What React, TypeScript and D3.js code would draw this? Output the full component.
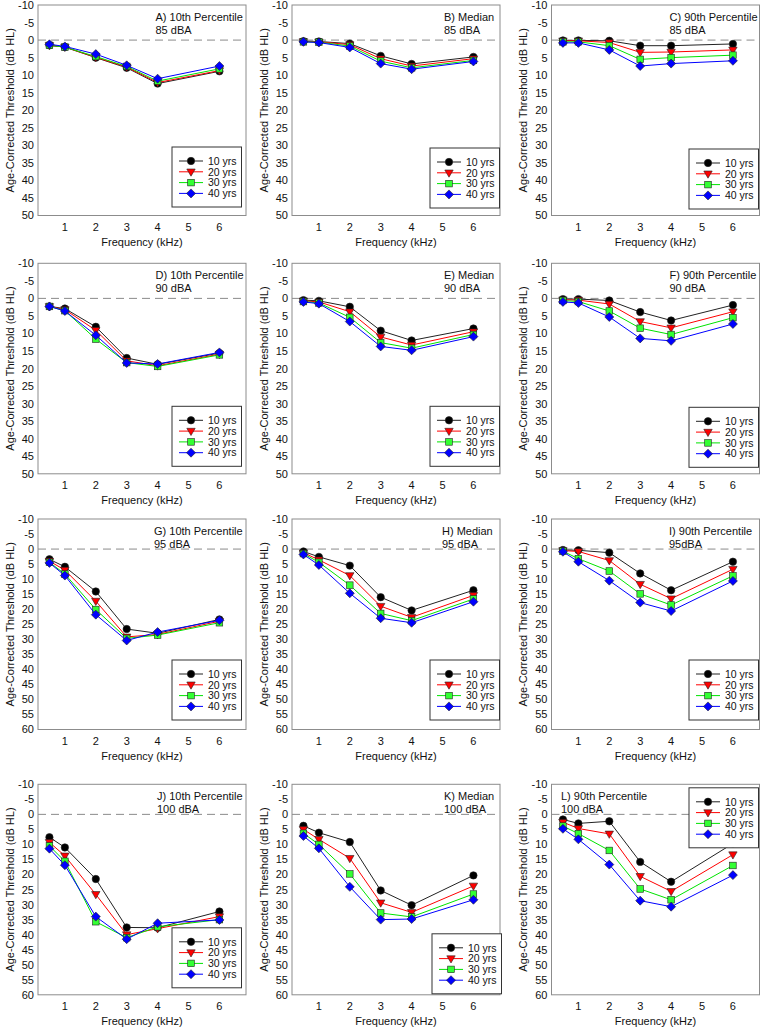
import React from "react";
import * as d3 from "d3";

// ---------- DATA ----------
const frequencies = [0.5, 1, 2, 3, 4, 6];
const ageGroups = ["10 yrs", "20 yrs", "30 yrs", "40 yrs"];
const xTickValues = [1, 2, 3, 4, 5, 6];
const yTicksShort = [-10, -5, 0, 5, 10, 15, 20, 25, 30, 35, 40, 45, 50];
const yTicksLong = [-10, -5, 0, 5, 10, 15, 20, 25, 30, 35, 40, 45, 50, 55, 60];
const panelTitles = [
  "A) 10th Percentile", "B) Median", "C) 90th Percentile",
  "D) 10th Percentile", "E) Median", "F) 90th Percentile",
  "G) 10th Percentile", "H) Median", "I) 90th Percentile",
  "J) 10th Percentile", "K) Median", "L) 90th Percentile",
];
const levelLabels = [
  "85 dBA", "85 dBA", "85 dBA",
  "90 dBA", "90 dBA", "90 dBA",
  "95 dBA", "95 dBA", "95dBA",
  "100 dBA", "100 dBA", "100 dBA",
];

// thresholds (dB HL), one row per age group: 10, 20, 30, 40 yrs
const panelA = [
  [1.5, 2.0, 5.0, 7.9, 12.4, 8.9],
  [1.5, 2.0, 4.9, 7.7, 12.1, 8.7],
  [1.5, 2.0, 4.7, 7.5, 11.7, 8.2],
  [1.2, 1.8, 4.0, 7.2, 11.0, 7.4],
];
const panelB = [
  [0.3, 0.4, 1.0, 4.5, 6.8, 4.8],
  [0.4, 0.5, 1.3, 5.3, 7.4, 5.3],
  [0.5, 0.6, 1.7, 6.0, 7.9, 5.8],
  [0.5, 0.7, 2.1, 6.7, 8.3, 6.1],
];
const panelC = [
  [0.1, 0.1, 0.2, 1.6, 1.6, 1.1],
  [0.2, 0.2, 0.7, 3.5, 3.4, 2.8],
  [0.5, 0.5, 1.6, 5.5, 5.0, 4.3],
  [0.8, 0.8, 2.8, 7.4, 6.7, 5.9],
];
const panelD = [
  [2.3, 2.9, 8.1, 17.0, 18.8, 15.6],
  [2.3, 3.2, 9.1, 17.8, 19.2, 15.9],
  [2.3, 3.5, 11.6, 18.3, 19.4, 16.1],
  [2.3, 3.6, 10.5, 18.4, 18.7, 15.4],
];
const panelE = [
  [0.5, 0.7, 2.4, 9.2, 12.0, 8.6],
  [0.7, 1.0, 3.8, 11.0, 13.3, 9.5],
  [0.9, 1.3, 5.4, 12.6, 14.2, 10.3],
  [1.0, 1.5, 6.6, 13.7, 14.8, 10.9],
];
const panelF = [
  [0.2, 0.2, 0.6, 3.9, 6.3, 1.9],
  [0.4, 0.5, 1.6, 6.6, 8.4, 3.8],
  [0.6, 0.9, 3.6, 8.5, 10.3, 5.5],
  [1.0, 1.3, 5.3, 11.4, 12.1, 7.3],
];
const panelG = [
  [3.4, 5.9, 14.1, 26.6, 28.0, 23.4],
  [4.0, 7.0, 17.3, 29.2, 28.4, 24.0],
  [4.4, 8.3, 20.1, 29.7, 28.6, 24.5],
  [4.6, 8.8, 21.8, 30.4, 27.6, 23.7],
];
const panelH = [
  [0.8, 2.6, 5.5, 16.0, 20.4, 13.7],
  [1.2, 3.6, 8.8, 19.0, 22.7, 15.4],
  [1.5, 4.4, 12.0, 21.4, 23.8, 16.6],
  [1.8, 5.3, 14.7, 23.0, 24.5, 17.5],
];
const panelI = [
  [0.3, 0.4, 1.2, 8.1, 13.7, 4.2],
  [0.5, 0.8, 3.8, 11.7, 16.5, 6.7],
  [0.7, 3.2, 7.3, 14.9, 18.6, 8.9],
  [0.9, 4.2, 10.5, 17.8, 20.6, 10.6],
];
const panelJ = [
  [7.6, 11.0, 21.5, 37.6, 37.7, 32.3],
  [9.3, 13.8, 26.6, 40.0, 38.0, 34.0],
  [10.5, 15.6, 35.7, 41.0, 37.4, 35.0],
  [11.4, 16.9, 34.0, 41.5, 36.2, 35.1],
];
const panelK = [
  [3.8, 6.1, 9.2, 25.3, 30.2, 20.3],
  [5.0, 8.3, 14.6, 29.4, 32.6, 23.8],
  [6.3, 10.0, 19.8, 32.8, 34.1, 26.5],
  [7.2, 11.3, 24.1, 35.0, 34.8, 28.4],
];
const panelL = [
  [1.7, 3.0, 2.3, 15.8, 22.4, 9.7],
  [2.6, 4.7, 6.5, 20.6, 25.6, 13.4],
  [3.9, 6.4, 12.0, 24.8, 28.4, 17.0],
  [4.8, 8.3, 16.7, 28.7, 30.7, 20.2],
];
const panelData = [panelA, panelB, panelC, panelD, panelE, panelF, panelG, panelH, panelI, panelJ, panelK, panelL];

// ---------- LAYOUT / STYLE ----------
const W = 763;
const H = 1028;
const FONT = "'Liberation Sans', Arial, Helvetica, sans-serif";
const colLefts = [38, 292, 551.5];
const plotW = 208;
const rowTops = [5, 263.3, 519, 784.3];
const plotH = 210.5;
const xDomain: [number, number] = [0.13, 6.86];
const rowYMax = [50, 50, 60, 60];
// annotation start x (offset from plot left), legend box (offset from plot left, top offset from plot top)
const annotX = [117.5, 152, 118, 117.5, 152, 118, 116, 150, 117.5, 119, 152, 9.5];
const legendBoxes = [
  [134, 142], [138, 143], [137.5, 144],
  [134, 143], [138, 143], [137.5, 144],
  [134, 141], [138, 141], [137.5, 141],
  [134, 143.5], [140, 149.5], [137.5, 3.5],
];
const legendW = 69.5;
const legendH = 60;

const seriesColors = ["#222222", "#ff0000", "#00e400", "#0000ff"];
const markerFills = ["#000000", "#ff0000", "#33ff33", "#0000ff"];
const markerStroke = "#222222";

function Marker({ kind, x, y }: { kind: number; x: number; y: number }) {
  const fill = markerFills[kind];
  if (kind === 0) return <circle cx={x} cy={y} r={3.7} fill={fill} stroke={markerStroke} strokeWidth={0.6} />;
  if (kind === 1) {
    const s = 4.2;
    return (
      <path d={`M${x - s},${y - 2.8}L${x + s},${y - 2.8}L${x},${y + 4.4}Z`} fill={fill} stroke={markerStroke} strokeWidth={0.6} />
    );
  }
  if (kind === 2) {
    const s = 3.3;
    return <rect x={x - s} y={y - s} width={2 * s} height={2 * s} fill={fill} stroke={markerStroke} strokeWidth={0.6} />;
  }
  const s = 4.5;
  return (
    <path d={`M${x},${y - s}L${x + s},${y}L${x},${y + s}L${x - s},${y}Z`} fill={fill} stroke={markerStroke} strokeWidth={0.6} />
  );
}

function Panel({ idx }: { idx: number }) {
  const row = Math.floor(idx / 3);
  const col = idx % 3;
  const left = colLefts[col];
  const top = rowTops[row];
  const right = left + plotW;
  const bottom = top + plotH;
  const yMax = rowYMax[row];
  const yTicks = yMax === 50 ? yTicksShort : yTicksLong;
  const x = d3.scaleLinear().domain(xDomain).range([left, right]);
  const y = d3.scaleLinear().domain([-10, yMax]).range([top, bottom]);
  const line = d3
    .line<number>()
    .x((_, i) => x(frequencies[i]))
    .y((d) => y(d));
  const data = panelData[idx];
  const [lx, ly] = legendBoxes[idx];
  const bx = left + lx;
  const by = top + ly;
  const clipId = `clip${idx}`;
  return (
    <g>
      <defs>
        <clipPath id={clipId}>
          <rect x={left} y={top} width={plotW} height={plotH} />
        </clipPath>
      </defs>
      <rect x={left} y={top} width={plotW} height={plotH} fill="#ffffff" stroke="#8c8c8c" strokeWidth={1} />
      <line x1={left} x2={right} y1={y(0)} y2={y(0)} stroke="#8a8a8a" strokeWidth={1} strokeDasharray="8,5" />
      {yTicks.map((t) => (
        <text key={t} x={left - 4} y={y(t)} dy="0.36em" textAnchor="end" fontSize={11} fontFamily={FONT} fill="#111">
          {t}
        </text>
      ))}
      {xTickValues.map((t) => (
        <text key={t} x={x(t)} y={bottom + 15.5} textAnchor="middle" fontSize={11} fontFamily={FONT} fill="#111">
          {t}
        </text>
      ))}
      <text x={(left + right) / 2} y={bottom + 30.5} textAnchor="middle" fontSize={11} fontFamily={FONT} fill="#111">
        Frequency (kHz)
      </text>
      <text
        transform={`translate(${left - 28},${(top + bottom) / 2}) rotate(-90)`}
        dy="0.36em"
        textAnchor="middle"
        fontSize={11}
        fontFamily={FONT}
        fill="#111"
      >
        Age-Corrected Threshold (dB HL)
      </text>
      <text x={left + annotX[idx]} y={top + 15.5} fontSize={11} fontFamily={FONT} fill="#111">
        {panelTitles[idx]}
      </text>
      <text x={left + annotX[idx]} y={top + 29} fontSize={11} fontFamily={FONT} fill="#111">
        {levelLabels[idx]}
      </text>
      <g clipPath={`url(#${clipId})`}>
        {data.map((vals, s) => (
          <g key={s}>
            <path d={line(vals) || ""} fill="none" stroke={seriesColors[s]} strokeWidth={1} />
            {vals.map((v, i) => (
              <Marker key={i} kind={s} x={x(frequencies[i])} y={y(v)} />
            ))}
          </g>
        ))}
      </g>
      <g>
        <rect x={bx} y={by} width={legendW} height={legendH} fill="#ffffff" stroke="#333" strokeWidth={1} />
        {ageGroups.map((g, s) => {
          const ry = by + 14 + s * 10.8;
          return (
            <g key={g}>
              <line x1={bx + 7} x2={bx + 31} y1={ry} y2={ry} stroke={seriesColors[s]} strokeWidth={1} />
              <Marker kind={s} x={bx + 19} y={ry} />
              <text x={bx + 36} y={ry} dy="0.36em" fontSize={10.5} fontFamily={FONT} fill="#111">
                {g}
              </text>
            </g>
          );
        })}
      </g>
    </g>
  );
}

export default function App() {
  return (
    <svg
      width={W}
      height={H}
      viewBox={`0 0 ${W} ${H}`}
      style={{ position: "absolute", left: 0, top: 0, background: "#fff" }}
    >
      <rect width={W} height={H} fill="#fff" />
      {panelData.map((_, i) => (
        <Panel key={i} idx={i} />
      ))}
    </svg>
  );
}
